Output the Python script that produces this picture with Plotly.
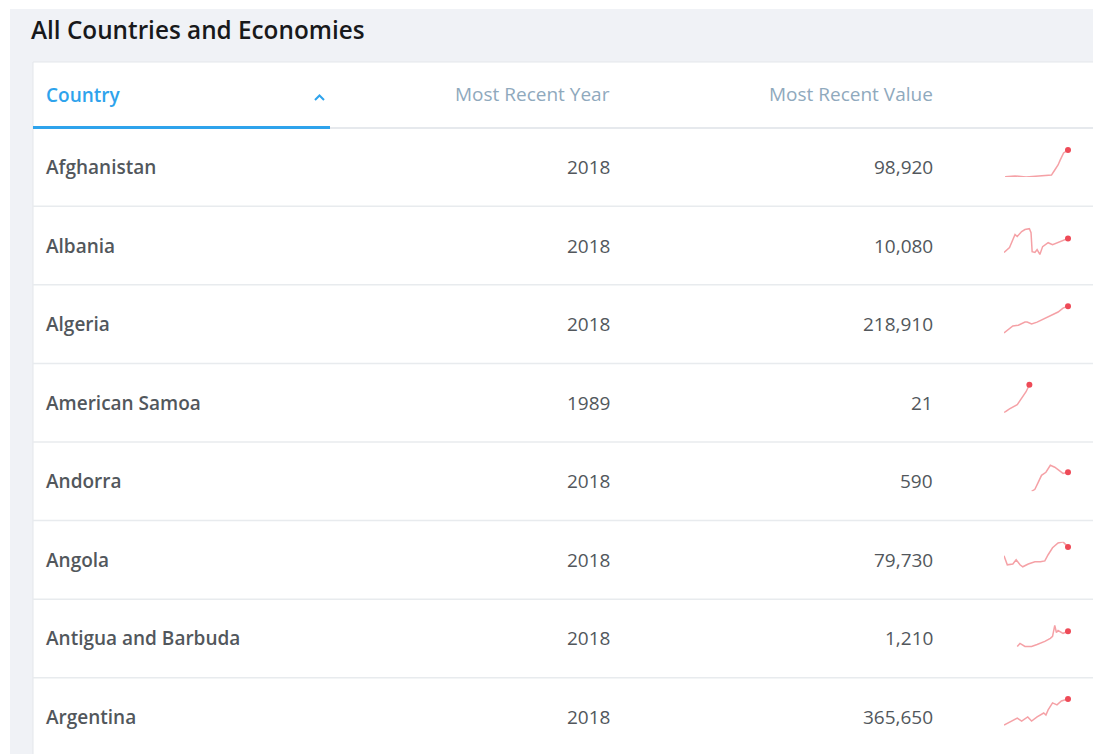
import plotly.graph_objects as go

# table content
countries = ["Afghanistan", "Albania", "Algeria", "American Samoa",
             "Andorra", "Angola", "Antigua and Barbuda", "Argentina"]
recent_years = [2018, 2018, 2018, 1989, 2018, 2018, 2018, 2018]
recent_values = [98920, 10080, 218910, 21, 590, 79730, 1210, 365650]

# sparkline data (relative units 0-100)
afg_years = [1961, 1970, 1980, 1990, 2000, 2003, 2006, 2009, 2011, 2014, 2018]
afg_vals = [1, 4, 0, 2, 4, 7, 25, 43, 61, 86, 96]

alb_years = [1960, 1965, 1970, 1972, 1976, 1979, 1983, 1984.5, 1985.5, 1988,
             1990, 1992.5, 1995, 2000, 2004, 2009, 2013.5, 2018]
alb_vals = [11, 29, 75, 68, 86, 93, 96, 82, 14, 11, 21, 4, 32, 46, 39, 46, 54, 61]

dza_years = [1960, 1964, 1968, 1973, 1979, 1981, 1985, 1990, 2000, 2009, 2013.5, 2018]
dza_vals = [4, 18, 29, 32, 43, 43, 36, 43, 61, 79, 93, 100]

asm_years = [1960, 1965, 1972, 1976, 1980, 1983]
asm_vals = [0, 14, 29, 54, 75, 100]

and_years = [1985, 1988, 1991, 1994, 1998, 2002, 2006, 2011, 2013.5, 2018]
and_vals = [0, 7, 32, 57, 68, 93, 86, 71, 64, 68]

ago_years = [1960, 1963, 1968, 1971, 1974.5, 1977, 1982, 1988, 1993, 1997,
             2000, 2004, 2009, 2013.5, 2018]
ago_vals = [50, 18, 21, 36, 18, 11, 21, 29, 29, 32, 54, 79, 96, 100, 82]

atg_years = [1972, 1974.5, 1979, 1985, 1990, 1997, 2002, 2004, 2006, 2007.5,
             2009, 2013.5, 2018]
atg_vals = [7, 18, 7, 7, 14, 25, 36, 43, 82, 57, 64, 54, 61]

arg_years = [1960, 1965.5, 1972, 1976, 1981.5, 1985, 1990, 1996, 1998, 2000,
             2004, 2008, 2012, 2018]
arg_vals = [7, 18, 32, 21, 36, 21, 36, 50, 43, 61, 86, 79, 93, 100]

spark_years = [afg_years, alb_years, dza_years, asm_years,
               and_years, ago_years, atg_years, arg_years]
spark_vals = [afg_vals, alb_vals, dza_vals, asm_vals,
              and_vals, ago_vals, atg_vals, arg_vals]

W, H = 1101, 754
OFF = 8  # page body margin
FONT = "Open Sans"


def px(x):
    return (x - OFF) / W


def py(y):
    return 1 - (y - OFF) / H


def label(text, x, y, anchor, size, color, weight=400):
    # annotation boxes carry ~2px of padding, nudge the anchor to compensate
    dx = -2 if anchor == "left" else 1.5
    return dict(text=text, x=px(x + dx), y=py(y), xref="paper", yref="paper",
                xanchor=anchor, yanchor="middle", showarrow=False,
                font=dict(family=FONT, size=size, color=color, weight=weight))


fig = go.Figure()
shapes = []
annotations = []

# page background panel and white card
shapes.append(dict(type="rect", xref="paper", yref="paper", x0=px(10), x1=px(1110),
                   y0=py(770), y1=py(9), fillcolor="#f0f2f6", line_width=0, layer="below"))
shapes.append(dict(type="rect", xref="paper", yref="paper", x0=px(33), x1=px(1095),
                   y0=py(780), y1=py(62), fillcolor="#ffffff",
                   line=dict(color="#e4e7eb", width=1), layer="below"))

# header underline
shapes.append(dict(type="line", xref="paper", yref="paper", x0=px(330), x1=px(1095),
                   y0=py(128), y1=py(128), line=dict(color="#e6e9ed", width=2)))
shapes.append(dict(type="line", xref="paper", yref="paper", x0=px(33), x1=px(330),
                   y0=py(127.5), y1=py(127.5), line=dict(color="#2ea3ec", width=3)))

# sort chevron
shapes.append(dict(type="path", xref="paper", yref="paper",
                   path=f"M {px(315)} {py(100)} L {px(319.5)} {py(95.5)} L {px(324)} {py(100)}",
                   line=dict(color="#2ea3ec", width=2)))

annotations.append(label("All Countries and Economies", 31, 29, "left", 24.3, "#18191b", 600))
annotations.append(label("Country", 46, 95, "left", 19, "#2ea3ec", 600))
annotations.append(label("Most Recent Year", 611, 94, "right", 19, "#8fa9bd"))
annotations.append(label("Most Recent Value", 933, 94, "right", 19, "#8fa9bd"))

row_top = 167
row_step = 78.57
text_col = "#52575c"

for i, name in enumerate(countries):
    cy = row_top + i * row_step
    if i < len(countries) - 1:
        ly = cy + row_step / 2
        shapes.append(dict(type="line", xref="paper", yref="paper", x0=px(33), x1=px(1095),
                           y0=py(ly), y1=py(ly), line=dict(color="#e8ebee", width=1.5)))
    annotations.append(label(name, 46, cy, "left", 19, text_col, 600))
    annotations.append(label(str(recent_years[i]), 611, cy, "right", 19, text_col))
    annotations.append(label(f"{recent_values[i]:,}", 933, cy, "right", 19, text_col))

    n = i + 1
    xa = "x" if n == 1 else f"x{n}"
    ya = "y" if n == 1 else f"y{n}"
    fig.add_trace(go.Scatter(x=spark_years[i], y=spark_vals[i], mode="lines",
                             line=dict(color="rgba(240,110,118,0.65)", width=1.5),
                             xaxis=xa, yaxis=ya, hoverinfo="skip", showlegend=False,
                             cliponaxis=False))
    fig.add_trace(go.Scatter(x=[spark_years[i][-1]], y=[spark_vals[i][-1]], mode="markers",
                             marker=dict(color="#ee4a57", size=6),
                             xaxis=xa, yaxis=ya, hoverinfo="skip", showlegend=False,
                             cliponaxis=False))
    axis_x = dict(domain=[px(1004), px(1068)], range=[1960, 2018], visible=False,
                  fixedrange=True, anchor=ya)
    axis_y = dict(domain=[py(cy + 10), py(cy - 18)], range=[0, 100], visible=False,
                  fixedrange=True, anchor=xa)
    fig.update_layout({("xaxis" if n == 1 else f"xaxis{n}"): axis_x,
                       ("yaxis" if n == 1 else f"yaxis{n}"): axis_y})

fig.update_layout(width=W, height=H, margin=dict(l=0, r=0, t=0, b=0),
                  paper_bgcolor="#ffffff", plot_bgcolor="rgba(0,0,0,0)",
                  shapes=shapes, annotations=annotations, showlegend=False)

fig.write_html("out.html", config={"displayModeBar": False})
